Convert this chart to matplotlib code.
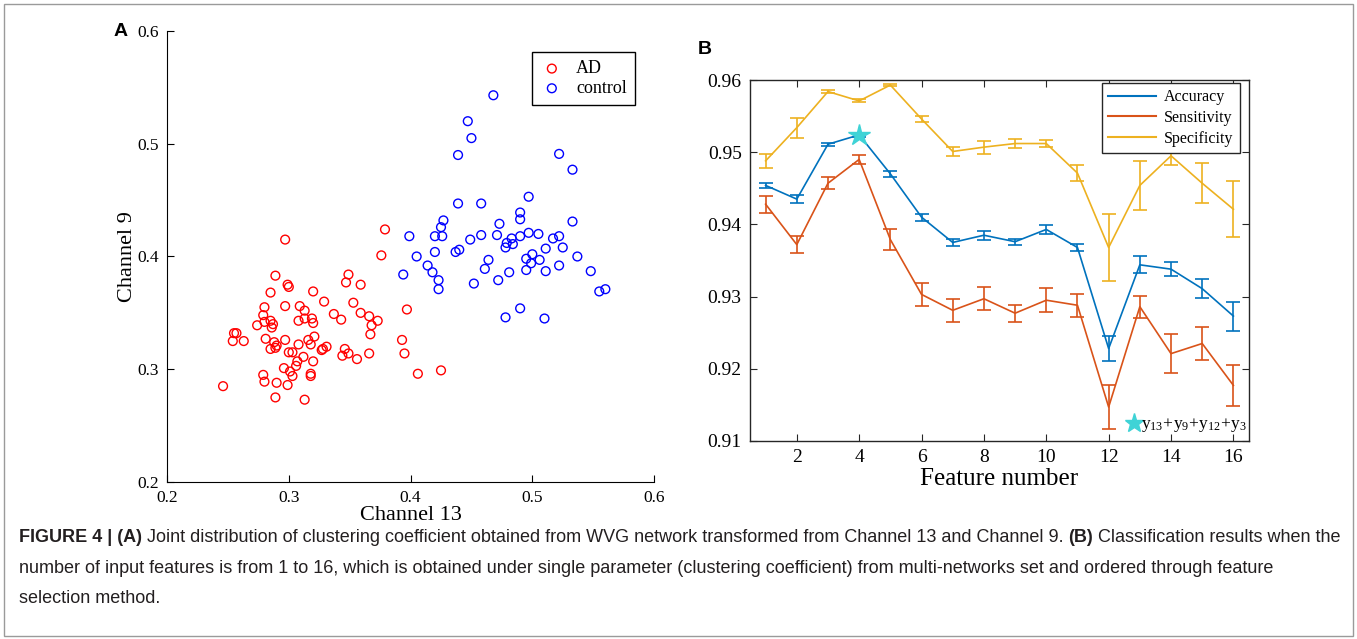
import numpy as np
import matplotlib
matplotlib.use("Agg")
import matplotlib.pyplot as plt
from matplotlib import font_manager
from matplotlib.patches import Rectangle
from matplotlib.lines import Line2D


def pick_font(names):
    for n in names:
        try:
            font_manager.findfont(n, fallback_to_default=False)
            return n
        except ValueError:
            pass
    return "DejaVu Sans"


SERIF = pick_font(["Liberation Serif", "DejaVu Serif"])
SANS = pick_font(["Liberation Sans", "Arimo", "DejaVu Sans"])
NARROW = pick_font(["Liberation Sans Narrow", "Liberation Sans", "DejaVu Sans"])

plt.rcParams["font.family"] = SERIF
plt.rcParams["mathtext.fontset"] = "custom"
plt.rcParams["mathtext.rm"] = SERIF
plt.rcParams["mathtext.it"] = SERIF + ":italic"

# ---- panel A data (clustering coefficient, Channel 13 vs Channel 9) ----
ad_x = [0.297, 0.376, 0.379, 0.289, 0.299, 0.300, 0.349, 0.347, 0.359, 0.285,
        0.320, 0.329, 0.280, 0.297, 0.309, 0.313, 0.353, 0.279, 0.337, 0.343,
        0.359, 0.366, 0.373, 0.368, 0.367, 0.274, 0.280, 0.285, 0.287, 0.286,
        0.308, 0.313, 0.319, 0.320, 0.255, 0.257, 0.254, 0.263, 0.281, 0.288,
        0.290, 0.289, 0.285, 0.297, 0.308, 0.316, 0.318, 0.321, 0.327, 0.328,
        0.331, 0.300, 0.303, 0.312, 0.307, 0.306, 0.320, 0.296, 0.301, 0.303,
        0.318, 0.318, 0.279, 0.280, 0.290, 0.299, 0.246, 0.289, 0.313, 0.346,
        0.344, 0.349, 0.356, 0.366, 0.393, 0.395, 0.397, 0.406, 0.425]
ad_y = [0.415, 0.401, 0.424, 0.383, 0.375, 0.373, 0.384, 0.377, 0.375, 0.368,
        0.369, 0.360, 0.355, 0.356, 0.356, 0.352, 0.359, 0.348, 0.349, 0.344,
        0.350, 0.347, 0.343, 0.339, 0.331, 0.339, 0.342, 0.343, 0.340, 0.337,
        0.343, 0.345, 0.345, 0.341, 0.332, 0.332, 0.325, 0.325, 0.327, 0.324,
        0.321, 0.319, 0.318, 0.326, 0.322, 0.326, 0.322, 0.329, 0.317, 0.318,
        0.320, 0.315, 0.315, 0.311, 0.307, 0.303, 0.307, 0.301, 0.298, 0.294,
        0.296, 0.294, 0.295, 0.289, 0.288, 0.286, 0.285, 0.275, 0.273, 0.318,
        0.312, 0.314, 0.309, 0.314, 0.326, 0.314, 0.353, 0.296, 0.299]

ctl_x = [0.468, 0.447, 0.450, 0.439, 0.522, 0.533, 0.497, 0.439, 0.458, 0.490,
         0.490, 0.533, 0.427, 0.425, 0.426, 0.420, 0.399, 0.473, 0.449, 0.458,
         0.471, 0.483, 0.479, 0.484, 0.478, 0.490, 0.497, 0.505, 0.517, 0.522,
         0.511, 0.525, 0.537, 0.405, 0.420, 0.437, 0.440, 0.414, 0.418, 0.423,
         0.423, 0.394, 0.464, 0.461, 0.452, 0.472, 0.481, 0.495, 0.495, 0.500,
         0.499, 0.506, 0.511, 0.522, 0.478, 0.490, 0.510, 0.548, 0.555, 0.560]
ctl_y = [0.543, 0.520, 0.505, 0.490, 0.491, 0.477, 0.453, 0.447, 0.447, 0.439,
         0.433, 0.431, 0.432, 0.426, 0.418, 0.418, 0.418, 0.429, 0.415, 0.419,
         0.419, 0.416, 0.412, 0.411, 0.408, 0.418, 0.421, 0.420, 0.416, 0.418,
         0.407, 0.408, 0.400, 0.400, 0.404, 0.404, 0.406, 0.392, 0.386, 0.379,
         0.371, 0.384, 0.397, 0.389, 0.376, 0.379, 0.386, 0.388, 0.398, 0.402,
         0.394, 0.397, 0.387, 0.392, 0.346, 0.354, 0.345, 0.387, 0.369, 0.371]

# ---- panel B data (classification vs number of features) ----
features = list(range(1, 17))
acc = [0.9454, 0.9435, 0.9511, 0.9524, 0.9470, 0.9410, 0.9375, 0.9385,
       0.9376, 0.9393, 0.9368, 0.9228, 0.9344, 0.9338, 0.9311, 0.9273]
acc_err = [0.0003, 0.0006, 0.0002, 0.0003, 0.0004, 0.0005, 0.0005, 0.0006,
           0.0004, 0.0006, 0.0005, 0.0017, 0.0012, 0.0010, 0.0013, 0.0020]
sens = [0.9428, 0.9372, 0.9457, 0.9490, 0.9379, 0.9303, 0.9281, 0.9297,
        0.9277, 0.9295, 0.9288, 0.9147, 0.9286, 0.9221, 0.9235, 0.9177]
sens_err = [0.0012, 0.0012, 0.0008, 0.0006, 0.0014, 0.0016, 0.0016, 0.0016,
            0.0012, 0.0017, 0.0016, 0.0031, 0.0015, 0.0027, 0.0023, 0.0028]
spec = [0.9488, 0.9534, 0.9584, 0.9571, 0.9593, 0.9546, 0.9501, 0.9507,
        0.9512, 0.9512, 0.9471, 0.9368, 0.9454, 0.9495, 0.9457, 0.9421]
spec_err = [0.0010, 0.0014, 0.0002, 0.0002, 0.0001, 0.0004, 0.0006, 0.0009,
            0.0006, 0.0005, 0.0011, 0.0047, 0.0034, 0.0013, 0.0028, 0.0039]
best_n = 4
best_label = r"$\mathregular{y_{13}\!+\!y_{9}\!+\!y_{12}\!+\!y_{3}}$"

caption = [
    [("FIGURE 4 | (A)", True),
     (" Joint distribution of clustering coefficient obtained from WVG network "
      "transformed from Channel 13 and Channel 9. ", False),
     ("(B)", True),
     (" Classification results when the", False)],
    [("number of input features is from 1 to 16, which is obtained under single "
      "parameter (clustering coefficient) from multi-networks set and ordered "
      "through feature", False)],
    [("selection method.", False)],
]

C_ACC, C_SENS, C_SPEC = "#0072BD", "#D95319", "#EDB120"
C_STAR = "#3FD3D6"

fig = plt.figure(figsize=(13.57, 6.39), dpi=100)
fig.patches.append(Rectangle((0.003, 0.004), 0.994, 0.99, transform=fig.transFigure,
                             fill=False, edgecolor="#9a9a9a", linewidth=1.0))

# ── Panel A ──────────────────────────────────────────────────────────────
axA = fig.add_axes([0.1231, 0.2457, 0.3589, 0.7058])
axA.scatter(ad_x, ad_y, s=40, facecolors="none", edgecolors="#FF0000",
            linewidths=1.0, label="AD")
axA.scatter(ctl_x, ctl_y, s=40, facecolors="none", edgecolors="#0000FF",
            linewidths=1.0, label="control")
axA.set_xlim(0.2, 0.6)
axA.set_ylim(0.2, 0.6)
axA.set_xticks([0.2, 0.3, 0.4, 0.5, 0.6])
axA.set_yticks([0.2, 0.3, 0.4, 0.5, 0.6])
axA.spines["top"].set_visible(False)
axA.spines["right"].set_visible(False)
axA.tick_params(direction="in", length=5, labelsize=12.5, pad=6)
axA.set_xlabel("Channel 13", fontsize=16, labelpad=0)
axA.set_ylabel("Channel 9", fontsize=16, labelpad=0)
legA = axA.legend(loc="upper right", bbox_to_anchor=(0.961, 0.953), fontsize=13,
                  fancybox=False, edgecolor="black", framealpha=1,
                  handletextpad=0.7, borderpad=0.45, handlelength=1.3,
                  labelspacing=0.15, borderaxespad=0)
legA.get_frame().set_linewidth(1.0)
fig.text(0.0892, 0.950, "A", family=SANS, fontweight="bold", fontsize=14,
         ha="center", va="center")

# ── Panel B ──────────────────────────────────────────────────────────────
axB = fig.add_axes([0.5527, 0.3099, 0.3677, 0.5649])
eb_kw = dict(capsize=5, linewidth=1.2, elinewidth=1.2, capthick=1.2)
series = [("Accuracy", acc, acc_err, C_ACC),
          ("Sensitivity", sens, sens_err, C_SENS),
          ("Specificity", spec, spec_err, C_SPEC)]
handles = []
for name, vals, errs, col in series:
    axB.errorbar(features, vals, yerr=errs, color=col, **eb_kw)
    handles.append(Line2D([], [], color=col, linewidth=1.5, label=name))
axB.plot([best_n], [acc[best_n - 1]], marker="*", color=C_STAR, markersize=16,
         linestyle="none", zorder=5)
axB.set_xlim(0.5, 16.5)
axB.set_ylim(0.91, 0.96)
axB.set_xticks(range(2, 17, 2))
axB.set_yticks([0.91, 0.92, 0.93, 0.94, 0.95, 0.96])
axB.set_yticklabels(["0.91", "0.92", "0.93", "0.94", "0.95", "0.96"])
axB.tick_params(direction="in", length=5, labelsize=14, top=True, right=True,
                color="#262626", pad=6)
for sp in axB.spines.values():
    sp.set_color("#262626")
    sp.set_linewidth(1.0)
axB.set_xlabel("Feature number", fontsize=18, labelpad=1)
legB = axB.legend(handles=handles, loc="upper right",
                  bbox_to_anchor=(0.982, 0.992), fontsize=11.5,
                  fancybox=False, edgecolor="#262626", framealpha=1,
                  handlelength=3.0, handletextpad=0.5, borderpad=0.4,
                  labelspacing=0.3, borderaxespad=0)
legB.get_frame().set_linewidth(1.0)

axB.plot([12.8], [0.9125], marker="*", color=C_STAR, markersize=14,
         linestyle="none", clip_on=False)
axB.text(13.05, 0.9122, best_label, fontsize=12.5, ha="left", va="center")
fig.text(0.5195, 0.922, "B", family=SANS, fontweight="bold", fontsize=14,
         ha="center", va="center")

# ── Caption (mixed bold / regular) ───────────────────────────────────────
renderer = fig.canvas.get_renderer()
cap_size = 12.0
x0_px, x1_px = 19, 1340
line1 = caption[0]
# size the font so the first line spans the reference width
pieces = [fig.text(0, 0, s, family=NARROW, fontsize=cap_size,
                   fontweight="bold" if b else "normal") for s, b in line1]
width = sum(p.get_window_extent(renderer).width for p in pieces)
for p in pieces:
    p.remove()
cap_size = cap_size * (x1_px - x0_px) / width

W, H = fig.bbox.width, fig.bbox.height
baselines = [542, 573, 603]
for parts, base in zip(caption, baselines):
    x = x0_px
    for s, b in parts:
        t = fig.text(x / W, 1 - base / H, s, family=NARROW, fontsize=cap_size,
                     fontweight="bold" if b else "normal", ha="left",
                     va="baseline", color="#231f20")
        x += t.get_window_extent(renderer).width

fig.savefig("out.png", dpi=100)
